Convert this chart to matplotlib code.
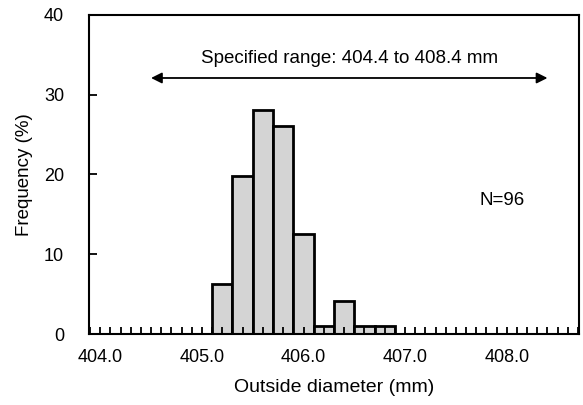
import matplotlib
matplotlib.use('Agg')
import matplotlib.pyplot as plt
import numpy as np
from matplotlib.ticker import MultipleLocator

# histogram bins (mm) and frequency (%), N=96
bin_edges = [405.1, 405.3, 405.5, 405.7, 405.9, 406.1, 406.3, 406.5, 406.7, 406.9]
counts = [6, 19, 27, 25, 12, 1, 4, 1, 1]
n_total = 96
freq = [c / n_total * 100 for c in counts]

range_low = 404.5
range_high = 408.4
range_label = 'Specified range: 404.4 to 408.4 mm'

plt.rcParams['font.family'] = ['Liberation Sans', 'DejaVu Sans']

fig = plt.figure(figsize=(5.83, 4.05), dpi=100)
ax = fig.add_axes([0.1527, 0.1753, 0.8404, 0.7877])

lefts = bin_edges[:-1]
widths = np.diff(bin_edges)
ax.bar(lefts, freq, width=widths, align='edge', facecolor='#d4d4d4',
       edgecolor='black', linewidth=2.0)

ax.set_xlim(403.89, 408.71)
ax.set_ylim(0, 40)
ax.xaxis.set_major_locator(MultipleLocator(1.0))
ax.xaxis.set_minor_locator(MultipleLocator(0.1))
ax.yaxis.set_major_locator(MultipleLocator(10))
ax.xaxis.set_major_formatter(plt.FormatStrFormatter('%.1f'))
ax.tick_params(axis='x', which='both', direction='in', length=5, width=1.3,
               labelsize=13, pad=11)
ax.tick_params(axis='y', which='major', direction='in', length=6, width=1.3,
               labelsize=13, pad=18)
for s in ax.spines.values():
    s.set_linewidth(1.5)

ax.set_xlabel('Outside diameter (mm)', fontsize=14, labelpad=9)
ax.set_ylabel('Frequency (%)', fontsize=13.5, labelpad=8)

ax.annotate('', xy=(range_low, 32.1), xytext=(range_high, 32.1),
            arrowprops=dict(arrowstyle='<|-|>', color='black', lw=1.3,
                            mutation_scale=16, shrinkA=0, shrinkB=0))
ax.text((range_low + range_high) / 2, 33.5, range_label, ha='center',
        va='bottom', fontsize=13.5)
ax.text(407.95, 16.8, f'N={n_total}', ha='center', va='center', fontsize=13.5)

fig.savefig('out.png', dpi=100)
